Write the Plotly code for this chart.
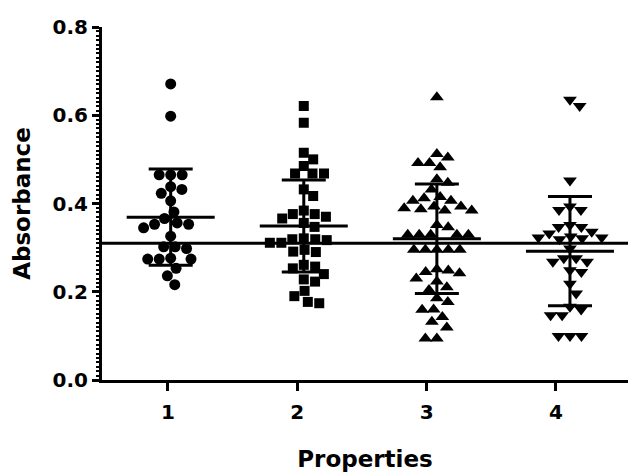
import math
import plotly.graph_objects as go

# ---- data ----
groups = [1, 2, 3, 4]
tick_labels = ["1", "2", "3", "4"]
g1 = [0.671, 0.598, 0.465, 0.465, 0.465, 0.432, 0.438, 0.423, 0.406, 0.381,
      0.356, 0.353, 0.366, 0.345, 0.353, 0.326, 0.302, 0.298, 0.302,
      0.276, 0.274, 0.274, 0.274, 0.253, 0.236, 0.216]
g2 = [0.621, 0.583, 0.515, 0.500, 0.485, 0.468, 0.468, 0.468, 0.432, 0.417,
      0.384, 0.376, 0.370, 0.366, 0.376, 0.356, 0.347, 0.321, 0.311, 0.317,
      0.319, 0.311, 0.319, 0.295, 0.291, 0.290, 0.261, 0.253, 0.257, 0.240,
      0.228, 0.223, 0.202, 0.190, 0.174, 0.177]
g3 = [0.641, 0.512, 0.492, 0.482, 0.492, 0.504, 0.447, 0.455, 0.432,
      0.406, 0.415, 0.412, 0.406, 0.393, 0.389, 0.384, 0.384, 0.387, 0.393,
      0.351, 0.346, 0.329, 0.329, 0.329, 0.329, 0.329,
      0.295, 0.295, 0.295, 0.295, 0.295,
      0.248, 0.242, 0.223, 0.230, 0.245, 0.251, 0.204, 0.210,
      0.177, 0.185, 0.159, 0.143, 0.160, 0.132, 0.119, 0.094, 0.094]
g4 = [0.635, 0.621, 0.452, 0.393, 0.385, 0.385, 0.347, 0.336, 0.332, 0.347,
      0.351, 0.323, 0.321, 0.319, 0.323, 0.325, 0.298, 0.276, 0.268, 0.268,
      0.276, 0.245, 0.249, 0.218, 0.196, 0.166, 0.147, 0.147, 0.160,
      0.100, 0.100, 0.100]
means = [0.369, 0.349, 0.320, 0.292]
sds = [0.109, 0.104, 0.124, 0.124]
ref_value = 0.31
symbols = ["circle", "square", "triangle-up", "triangle-down"]
marker_sizes = [11, 10, 12, 12]

# ---- layout geometry ----
W, H = 628, 473
ML, MR, MT, MB = 102, 0, 27, 93
plot_w = W - ML - MR
plot_h = H - MT - MB
y_range = [0, 0.8]
x_tick_range = [0.4897, 4.557]
x_data_range = [0.484, 4.436]
px_per_x = plot_w / (x_data_range[1] - x_data_range[0])
px_per_y = plot_h / (y_range[1] - y_range[0])


def swarm_offsets(vals, d=11.5):
    """Simple beeswarm: place each point as close to the centre as possible."""
    order = sorted(range(len(vals)), key=lambda i: -vals[i])
    placed = []
    offs = [0.0] * len(vals)
    for i in order:
        ypx = vals[i] * px_per_y
        intervals = []
        for px, py in placed:
            dy = abs(ypx - py)
            if dy < d:
                h = math.sqrt(d * d - dy * dy)
                intervals.append((px - h, px + h))
        cands = [0.0]
        for a, b in intervals:
            cands += [a, b]
        cands.sort(key=lambda c: (abs(c), -c))
        best = 0.0
        for c in cands:
            if all(not (a + 1e-6 < c < b - 1e-6) for a, b in intervals):
                best = c
                break
        placed.append((best, ypx))
        offs[i] = best / px_per_x
    return offs


fig = go.Figure()
# invisible trace so the tick axis is drawn
fig.add_trace(go.Scatter(x=[groups[0]], y=[None], mode="markers",
                         showlegend=False, hoverinfo="skip"))
for g, vals, sym, ms in zip(groups, [g1, g2, g3, g4], symbols, marker_sizes):
    offs = swarm_offsets(vals)
    fig.add_trace(go.Scatter(
        x=[g + o for o in offs], y=vals, mode="markers", xaxis="x2",
        marker=dict(symbol=sym, size=ms, color="black", line=dict(width=0)),
        showlegend=False, hoverinfo="y"))

half_mean = 44 / px_per_x
for g, m in zip(groups, means):
    fig.add_trace(go.Scatter(
        x=[g - half_mean, g + half_mean], y=[m, m], mode="lines", xaxis="x2",
        line=dict(color="black", width=3), showlegend=False, hoverinfo="skip"))

fig.add_trace(go.Scatter(
    x=groups, y=means, mode="markers", xaxis="x2",
    marker=dict(size=1, color="rgba(0,0,0,0)"),
    error_y=dict(type="data", array=sds, visible=True, color="black",
                 thickness=3, width=22),
    showlegend=False, hoverinfo="skip"))

fig.add_shape(type="line", xref="paper", x0=0, x1=1, yref="y",
              y0=ref_value, y1=ref_value, line=dict(color="black", width=3))

font_tick = dict(family="DejaVu Sans", size=20, color="black", weight="bold")
font_title = dict(family="DejaVu Sans", size=23, color="black", weight="bold")

fig.update_layout(
    width=W, height=H, autosize=False,
    margin=dict(l=ML, r=MR, t=MT, b=MB, pad=0),
    plot_bgcolor="white", paper_bgcolor="white",
    xaxis=dict(range=x_tick_range, tickvals=groups, ticktext=tick_labels,
               showline=True, linecolor="black", linewidth=3,
               ticks="outside", ticklen=8, tickwidth=3, tickcolor="black",
               ticklabelstandoff=4,
               showgrid=False, zeroline=False, tickfont=font_tick,
               title=dict(text="Properties", font=font_title, standoff=28)),
    xaxis2=dict(range=x_data_range, overlaying="x", visible=False),
    yaxis=dict(range=y_range, tickvals=[0, 0.2, 0.4, 0.6, 0.8],
               tickformat=".1f", showline=True, linecolor="black", linewidth=3,
               ticks="outside", ticklen=7, tickwidth=3, tickcolor="black",
               minor=dict(dtick=0.01, ticks="outside", ticklen=3, tickwidth=2,
                          tickcolor="black"),
               showgrid=False, zeroline=False, tickfont=font_tick,
               title=dict(text="Absorbance", font=font_title, standoff=16)),
)

fig.write_html("out.html", config={"displayModeBar": False},
               post_script="document.body.style.margin='0';document.body.style.padding='0';")
